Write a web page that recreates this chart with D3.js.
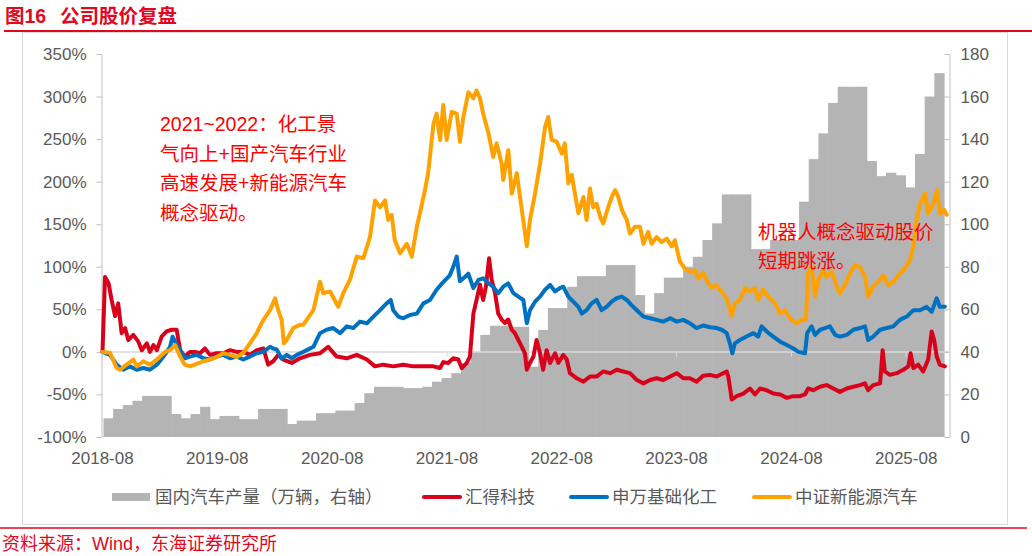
<!DOCTYPE html>
<html>
<head>
<meta charset="utf-8">
<script src="https://cdn.jsdelivr.net/npm/d3@7"></script>
<style>
  body { margin: 0; background: #fff; }
  svg { display: block; font-family: "Liberation Sans", "Noto Sans CJK SC", sans-serif; }
</style>
</head>
<body>
<svg id="chart" width="1032" height="556"></svg>
<script>
// ---- data ----
var yearTicks = ['2018-08', '2019-08', '2020-08', '2021-08', '2022-08', '2023-08', '2024-08', '2025-08'];
var pctTicks = [-100, -50, 0, 50, 100, 150, 200, 250, 300, 350];
var prodTicks = [0, 20, 40, 60, 80, 100, 120, 140, 160, 180];

// monthly production, 万辆, 2018-08 .. 2025-10
var carProd = [8.8, 13.2, 15, 17, 19.3, 19.3, 19.3, 10.8, 8.8, 10.8,
  14.2, 8.4, 9.9, 9.9, 8.4, 8.4, 13.2, 13.2, 13.2, 6.1,
  7.7, 7.7, 11.2, 11.2, 12.4, 12.4, 16, 20.6, 23.6, 23.6,
  23.6, 23, 23, 23.6, 26, 27.7, 30, 34.8, 40, 48,
  52.3, 52.3, 51.8, 51.8, 33, 50.3, 60.6, 60.6, 70.6, 75.6,
  75.6, 75.6, 80.8, 80.8, 80.8, 66.7, 58, 67.6, 74.9, 74.9,
  80, 84.7, 92.6, 100.4, 114, 114, 114, 88.3, 88.3, 92.6,
  92.6, 92.6, 110.6, 130.6, 142.7, 157, 164.6, 164.6, 164.6, 129.7,
  122.6, 124.2, 123, 117.3, 133, 160, 171];

// [months since 2018-08-01, cumulative change %]
var huide = [[0,0],[0.26,88],[0.61,81],[0.96,61],[1.31,42],[1.65,57],[2.01,22],[2.35,28],[2.70,14],[3.22,20],
  [3.74,12],[4.10,2],[4.62,10],[4.96,0],[5.31,8],[5.67,2],[6.19,18],[6.71,24],[7.23,26],[7.76,26],
  [8.10,2],[8.62,-5.5],[9.15,0],[9.67,0],[10.19,-1.6],[10.71,4],[11.24,-3.5],[11.94,-1.6],[12.63,-1.6],[13.33,2],
  [14.03,0],[14.72,0],[15.42,-3.5],[16.12,2],[16.81,4],[17.33,-15],[17.85,-11],[18.38,-3.5],[18.90,-9],[19.78,-13],
  [20.64,-7.5],[21.69,-3.5],[22.73,-1.6],[23.60,6],[24.48,-5.5],[25.53,-7.5],[26.57,-3.5],[27.62,-9],[28.48,-17],[29.35,-15],
  [30.40,-17],[31.44,-15],[32.49,-17],[33.53,-17],[34.58,-17],[35.28,-19],[35.62,-12],[36.15,-13],[36.67,-7.5],[37.19,-9],
  [37.55,-19],[38.07,-13],[38.41,-5.5],[38.76,45],[39.11,61],[39.46,79],[39.80,61],[40.09,77],[40.40,110],[40.68,85],
  [41.03,69],[41.37,45],[41.73,38],[42.07,34],[42.42,38],[42.77,26],[43.12,22],[43.46,14],[43.82,6],[44.16,-1.6],
  [44.34,-21],[44.69,-13],[45.03,-5.5],[45.38,14],[45.73,-1.6],[46.07,-21],[46.43,2],[46.78,-13],[47.30,-1.6],[47.64,-13],
  [48.17,-3.5],[48.52,-9],[48.87,-25],[49.57,-31],[50.26,-35],[50.96,-29],[51.66,-29],[52.35,-23],[53.05,-25],[53.75,-21],
  [54.44,-23],[55.14,-25],[55.84,-33],[56.53,-37],[57.23,-33],[57.93,-31],[58.62,-33],[59.32,-29],[60.02,-25],[60.71,-31],
  [61.41,-31],[62.11,-35],[62.80,-28],[63.50,-27],[64.20,-29],[64.89,-25],[65.25,-23],[65.41,-29],[65.77,-56],[66.29,-52],
  [66.98,-49],[67.68,-43],[68.20,-50],[68.73,-43],[69.43,-45],[70.12,-49],[70.82,-50],[71.52,-54],[72.21,-52],[72.91,-52],
  [73.43,-50],[73.77,-43],[74.30,-45],[75.00,-41],[75.70,-39],[76.39,-43],[77.09,-47],[77.79,-43],[78.48,-41],[79.18,-39],
  [79.70,-37],[80.05,-45],[80.57,-39],[81.27,-37],[81.55,2],[81.79,-23],[82.31,-27],[83.02,-25],[83.70,-21],[84.23,-17],
  [84.48,-1.6],[84.75,-19],[85.27,-15],[85.80,-23],[86.32,-9],[86.67,24],[86.95,14],[87.20,-5.5],[87.54,-15],[88.06,-17]];

var swChem = [[0,0],[0.78,-3.5],[1.48,-15],[2.17,-21],[2.87,-17],[3.57,-21],[4.26,-19],[4.96,-21],[5.67,-15],[6.36,-5.5],
  [7.06,6],[7.34,18],[7.68,10],[8.10,2],[8.62,-7.5],[9.15,-5.5],[9.85,-3.5],[10.54,-7.5],[11.24,-9],[11.94,-5.5],
  [12.63,-3.5],[13.33,-7.5],[14.03,-5.5],[14.72,-9],[15.42,-5.5],[16.12,-1.6],[16.81,0],[17.51,6],[17.85,4],[18.21,3],
  [18.73,-8],[19.25,-3.5],[19.78,-7.5],[20.30,-3.5],[20.99,0],[22.03,6],[22.73,22],[23.43,26],[24.12,28],[24.83,22],
  [25.53,30],[26.22,28],[26.92,35.6],[27.62,33.6],[28.31,41.5],[29.01,49],[29.71,57],[30.12,61],[30.40,49],[30.92,41.5],
  [31.44,39.5],[32.14,43.4],[32.84,45],[33.53,57],[34.23,61],[34.93,73],[35.62,82],[36.32,90],[36.67,100],[37.02,112],
  [37.37,83],[37.89,88],[38.24,92],[38.76,75],[39.28,84.5],[39.80,86.5],[40.33,80.6],[40.85,76.6],[41.37,69],[41.89,76.6],
  [42.42,80.6],[42.94,69],[43.46,65],[43.98,61],[44.34,33.6],[44.69,49],[45.21,59],[45.73,65],[46.25,73],[46.78,78.6],
  [47.30,71],[47.82,75],[48.17,76.6],[48.69,65],[49.21,59],[49.73,53],[50.09,45],[50.61,49],[51.13,57],[51.66,61],
  [52.18,49],[52.70,53],[53.22,59],[53.75,63],[54.27,65],[54.79,61],[55.31,55],[55.84,49],[56.53,41.5],[57.23,39.5],
  [57.93,37.6],[58.62,35.6],[59.32,39.5],[60.02,35.6],[60.71,37.6],[61.41,33.6],[62.11,28],[62.80,31],[63.50,29],[64.20,28],
  [64.72,26],[65.25,22],[65.59,10],[65.83,-1.6],[66.11,10],[66.64,14],[67.33,18],[68.03,22],[68.55,18],[68.90,30],
  [69.43,24],[70.12,18],[70.82,12],[71.52,8],[72.21,4],[72.73,0],[73.43,-1.6],[73.67,22],[74.13,30],[74.48,20],
  [75.00,26],[75.52,28],[76.04,30],[76.57,20],[77.09,18],[77.79,20],[78.48,26],[79.18,28],[79.70,30],[80.05,14],
  [80.57,18],[81.27,26],[81.97,28],[82.66,30],[83.36,37.6],[84.06,41.5],[84.75,49],[85.45,49],[86.15,53],[86.67,47],
  [87.20,63],[87.54,53],[88.06,53]];

var nevIdx = [[0,0],[0.78,-1],[1.48,-19],[1.83,-21],[2.53,-15],[3.22,-9],[3.57,-17],[4.26,-11],[4.96,-15],[5.67,-9],
  [6.53,0],[7.06,2],[7.58,8],[8.10,-5.5],[8.62,-15],[9.15,-17],[9.85,-14],[10.54,-11],[11.24,-9],[11.94,-6],
  [12.63,-1.6],[13.33,-3.5],[14.03,-6],[14.72,-1],[15.42,10],[16.12,22],[16.46,30],[16.81,37.6],[17.51,49],[18.03,63],
  [18.38,49],[18.73,37.6],[18.97,10],[19.25,14],[19.94,28],[20.64,32],[20.99,32],[22.03,49],[22.73,82.5],[23.08,69],
  [23.78,71],[24.65,53],[25.17,69],[25.87,84.5],[26.57,112],[27.26,110],[27.96,135],[28.48,178],[29.01,170],[29.53,178],
  [29.87,155],[30.23,161],[30.57,131],[31.10,116],[31.80,127],[32.32,112],[32.84,147],[33.19,163],[33.71,190],[34.05,210],
  [34.58,268],[34.93,280],[35.28,249],[35.62,290],[35.98,249],[36.50,282],[37.02,280],[37.37,247],[37.71,276],[38.24,305],
  [38.76,298],[39.11,307],[39.46,298],[39.80,280],[40.33,257],[40.85,229],[41.20,245],[41.73,221],[41.89,202],[42.42,237],
  [42.77,186],[43.30,210],[43.82,167],[44.34,124],[44.69,155],[45.21,186],[45.73,221],[46.25,264],[46.60,276],[46.95,249],
  [47.48,247],[48.00,233],[48.34,245],[48.69,198],[49.04,208],[49.39,186],[49.73,163],[50.26,182],[50.61,155],[50.96,192],
  [51.30,170],[51.66,174],[52.00,159],[52.35,151],[52.87,170],[53.22,182],[53.57,190],[53.92,182],[54.27,167],[54.79,155],
  [55.14,139],[55.66,147],[56.18,147],[56.53,127],[57.05,141],[57.41,127],[57.93,135],[58.45,129],[58.97,133],[59.50,124],
  [59.84,131],[60.36,106],[60.89,98],[61.41,94],[61.93,96],[62.28,86],[62.80,93],[63.32,81],[63.68,76],[64.20,78],
  [64.72,70],[65.25,63],[65.77,42],[66.11,57],[66.64,61],[67.16,75],[67.68,71],[68.20,75],[68.55,61],[69.07,73],
  [69.59,65],[70.29,57],[70.82,45],[71.34,49],[71.86,39.5],[72.56,33.6],[73.08,37.6],[73.53,37.6],[73.77,92],[74.13,100],
  [74.48,65],[74.82,84.5],[75.34,96],[75.70,88],[76.22,94],[76.74,77],[77.09,69],[77.61,78.6],[78.13,92],[78.66,102],
  [79.18,100],[79.70,88],[80.05,65],[80.57,77],[81.27,84.5],[81.61,90],[82.14,78.6],[82.66,82.5],[83.36,92],[83.88,98],
  [84.41,108],[84.75,124],[85.10,155],[85.45,174],[85.97,186],[86.32,163],[86.84,174],[87.26,190],[87.54,163],[87.96,167],
  [88.24,161]];

// ---- setup ----
var svg = d3.select('#chart');
var red = '#e3061d', grey = '#595959';
var start = new Date(2018, 7, 1);
var toDate = function (m) { return d3.timeDay.offset(start, Math.round(m * 30.437)); };

var x = d3.scaleTime().domain([start, new Date(2025, 11, 12)]).range([102.5, 948]);
var yL = d3.scaleLinear().domain([-100, 350]).range([437, 54]);
var yR = d3.scaleLinear().domain([0, 180]).range([437, 54]);

// bars sit on their own (hidden) monthly axis
var carMonths = d3.timeMonth.range(start, new Date(2025, 9, 2));
var xBar = d3.scaleBand().domain(carMonths).range([103.5, 944]).padding(0);

// title and frame
var title = svg.append('text').attr('y', 23)
  .attr('fill', red).attr('font-size', 19.5).attr('font-weight', 'bold');
title.append('tspan').attr('x', 5).text('图16');
title.append('tspan').attr('x', 60).text('公司股价复盘');
svg.append('line').attr('x1', 4).attr('x2', 1032).attr('y1', 31).attr('y2', 31)
  .attr('stroke', red).attr('stroke-width', 2);
svg.append('rect').attr('x', 22.5).attr('y', 32.5).attr('width', 985).attr('height', 492)
  .attr('fill', 'none').attr('stroke', '#d9d9d9');

// production bars
svg.append('g').selectAll('rect')
  .data(carProd)
  .enter().append('rect')
  .attr('x', function (d, i) { return xBar(carMonths[i]); })
  .attr('width', xBar.bandwidth() + 0.6)
  .attr('y', function (d) { return yR(d); })
  .attr('height', function (d) { return yR(0) - yR(d); })
  .attr('fill', '#b4b4b4');

// zero line + year ticks
svg.append('line').attr('x1', 102).attr('x2', 949).attr('y1', yL(0)).attr('y2', yL(0))
  .attr('stroke', '#d9d9d9').attr('stroke-width', 1.5);
var parseYM = d3.timeParse('%Y-%m');
svg.append('g').selectAll('line')
  .data(yearTicks)
  .enter().append('line')
  .attr('x1', function (d) { return x(parseYM(d)); })
  .attr('x2', function (d) { return x(parseYM(d)); })
  .attr('y1', yL(0)).attr('y2', yL(0) + 5)
  .attr('stroke', '#d9d9d9');
svg.append('g').selectAll('text')
  .data(yearTicks)
  .enter().append('text')
  .attr('x', function (d) { return x(parseYM(d)); })
  .attr('y', 464)
  .attr('text-anchor', 'middle')
  .attr('font-size', 17).attr('fill', grey)
  .text(function (d) { return d; });

// axes
var leftAxis = svg.append('g').attr('transform', 'translate(101.5,0)')
  .call(d3.axisLeft(yL).tickValues(pctTicks).tickSizeInner(5).tickSizeOuter(0).tickPadding(10)
    .tickFormat(function (d) { return d + '%'; }));
var rightAxis = svg.append('g').attr('transform', 'translate(949.5,0)')
  .call(d3.axisRight(yR).tickValues(prodTicks).tickSizeInner(-5).tickSizeOuter(0).tickPadding(11));
[leftAxis, rightAxis].forEach(function (g) {
  g.select('.domain').attr('stroke', '#bfbfbf');
  g.selectAll('.tick line').attr('stroke', '#bfbfbf');
  g.selectAll('.tick text').attr('fill', grey).attr('font-size', 17)
    .attr('font-family', '"Liberation Sans", sans-serif');
});

// stock lines
var line = d3.line()
  .x(function (d) { return x(toDate(d[0])); })
  .y(function (d) { return yL(d[1]); });
var series = [
  { data: huide, color: '#d9001b' },
  { data: swChem, color: '#0070c0' },
  { data: nevIdx, color: '#ffa200' }
];
series.forEach(function (s) {
  svg.append('path').datum(s.data)
    .attr('d', line)
    .attr('fill', 'none')
    .attr('stroke', s.color)
    .attr('stroke-width', 4)
    .attr('stroke-linejoin', 'round')
    .attr('stroke-linecap', 'round');
});

// annotations
var note1 = ['2021~2022：化工景', '气向上+国产汽车行业', '高速发展+新能源汽车', '概念驱动。'];
var note2 = ['机器人概念驱动股价', '短期跳涨。'];
svg.append('g').selectAll('text').data(note1).enter().append('text')
  .attr('x', 160).attr('y', function (d, i) { return 131 + i * 29.6; })
  .attr('fill', '#ff0000').attr('font-size', 19.5).text(function (d) { return d; });
svg.append('g').selectAll('text').data(note2).enter().append('text')
  .attr('x', 758).attr('y', function (d, i) { return 239 + i * 29; })
  .attr('fill', '#ff0000').attr('font-size', 19.5).text(function (d) { return d; });

// legend
var lg = svg.append('g').attr('font-size', 17.5).attr('fill', grey);
lg.append('rect').attr('x', 112).attr('y', 493).attr('width', 38).attr('height', 8).attr('fill', '#b4b4b4');
lg.append('text').attr('x', 155).attr('y', 503).text('国内汽车产量（万辆，右轴）');
var legendLines = [
  { x: 422, label: '汇得科技', color: '#d9001b' },
  { x: 569, label: '申万基础化工', color: '#0070c0' },
  { x: 752, label: '中证新能源汽车', color: '#ffa200' }
];
legendLines.forEach(function (d) {
  lg.append('line').attr('x1', d.x + 2).attr('x2', d.x + 38).attr('y1', 497).attr('y2', 497)
    .attr('stroke', d.color).attr('stroke-width', 4).attr('stroke-linecap', 'round');
  lg.append('text').attr('x', d.x + 43).attr('y', 503).text(d.label);
});

// source
svg.append('line').attr('x1', 0).attr('x2', 1027).attr('y1', 528).attr('y2', 528)
  .attr('stroke', red).attr('stroke-width', 1.5);
svg.append('text').attr('x', 2).attr('y', 550).attr('fill', red).attr('font-size', 18)
  .text('资料来源：Wind，东海证券研究所');
</script>
</body>
</html>
